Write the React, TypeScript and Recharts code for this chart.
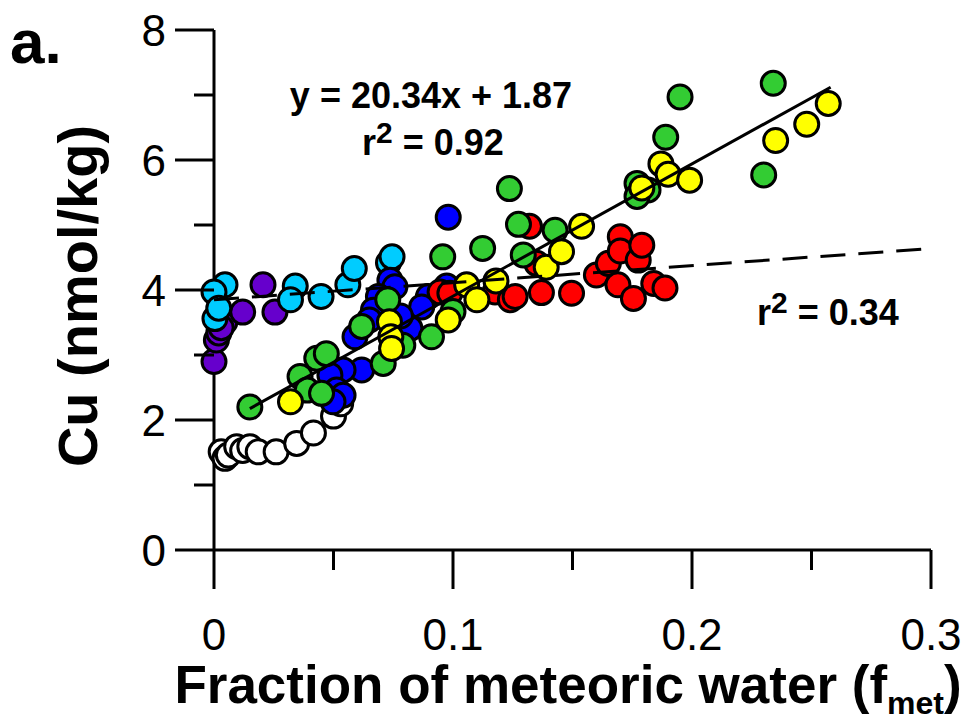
import React from "react";
import { ScatterChart, Scatter, XAxis, YAxis } from "recharts";

// fraction of meteoric water (x) vs Cu nmol/kg (y), one list per sample group
const whitePts = [
  [0.003, 1.51], [0.0046, 1.41], [0.006, 1.46], [0.0095, 1.59], [0.012, 1.53],
  [0.015, 1.59], [0.0185, 1.51], [0.026, 1.51], [0.0346, 1.64], [0.0416, 1.8],
  [0.05, 2.06], [0.053, 2.25],
];
const purplePts = [
  [0, 2.9], [0.001, 3.23], [0.002, 3.34], [0.0046, 3.51], [0.003, 3.42],
  [0.012, 3.66], [0.0205, 4.08], [0.0255, 3.66],
];
const cyanPts = [
  [0.0046, 4.08], [0, 3.97], [0.0004, 3.56], [0.002, 3.72], [0.034, 4.06],
  [0.032, 3.85], [0.0448, 3.9], [0.056, 4.08], [0.0587, 4.33], [0.073, 4.42],
  [0.0745, 4.51],
];
const bluePts = [
  [0.0736, 4.15], [0.0757, 4.05], [0.0688, 3.9], [0.0667, 3.69], [0.065, 3.54],
  [0.059, 3.28], [0.0897, 3.9], [0.0869, 3.74], [0.082, 3.41], [0.078, 3.6],
  [0.0974, 4.06], [0.098, 5.12], [0.0618, 2.77], [0.054, 2.77], [0.0485, 2.69],
  [0.0513, 2.46], [0.054, 2.38], [0.0498, 2.28],
];
const redPts = [
  [0.0946, 3.97], [0.0987, 3.95], [0.1176, 3.97], [0.124, 3.85], [0.126, 3.9],
  [0.132, 4.98], [0.135, 4.41], [0.137, 3.96], [0.1496, 3.95], [0.16, 4.23],
  [0.165, 4.41], [0.169, 4.08], [0.17, 4.82], [0.17, 4.6], [0.1755, 3.87],
  [0.1775, 4.46], [0.179, 4.69], [0.184, 4.1], [0.1887, 4.03],
];
const greenPts = [
  [0.015, 2.2], [0.036, 2.67], [0.039, 2.46], [0.045, 2.41], [0.043, 2.95],
  [0.047, 3.02], [0.0618, 3.44], [0.0708, 2.87], [0.079, 3.15], [0.0727, 3.85],
  [0.091, 3.28], [0.1, 3.67], [0.0957, 4.51], [0.1124, 4.64], [0.1236, 5.56],
  [0.1274, 5.01], [0.1427, 4.92], [0.1294, 4.54], [0.177, 5.64], [0.1816, 5.54],
  [0.177, 5.44], [0.189, 6.35], [0.195, 6.97], [0.234, 7.18], [0.23, 5.77],
];
const yellowPts = [
  [0.032, 2.28], [0.0734, 3.51], [0.074, 3.28], [0.0743, 3.1], [0.098, 3.54],
  [0.1057, 4.08], [0.11, 3.85], [0.118, 4.14], [0.139, 4.35], [0.1454, 4.59],
  [0.1538, 4.98], [0.179, 5.57], [0.187, 5.94], [0.19, 5.78], [0.199, 5.69],
  [0.235, 6.3], [0.248, 6.55], [0.257, 6.87],
];

// regression lines (end points)
const fitSolid = [[0.015, 2.175], [0.258, 7.12]];
const fitDashed = [[0, 3.85], [0.297, 4.63]];

const xTicks = [0, 0.05, 0.1, 0.15, 0.2, 0.25, 0.3];
const xMajor = [0, 0.1, 0.2, 0.3];
const yTicks = [0, 1, 2, 3, 4, 5, 6, 7, 8];

const toXY = (pts: number[][]) => pts.map(([x, y]) => ({ x, y }));

const FONT = "'Liberation Sans', Arial, Helvetica, sans-serif";

const dot = (fill: string) => (p: any) => (
  <circle cx={p.cx} cy={p.cy} r={12} fill={fill} stroke="#000" strokeWidth={3} />
);

const XTick = (props: any) => {
  const { x, y, payload } = props;
  const major = xMajor.includes(payload.value);
  return (
    <g>
      <line x1={x} x2={x} y1={y} y2={y + (major ? 39 : 20)} stroke="#000" strokeWidth={3} />
      {major && (
        <text x={x} y={y + 100} textAnchor="middle" fontSize={44} fontFamily={FONT} fill="#000">
          {String(payload.value)}
        </text>
      )}
    </g>
  );
};

const YTick = (props: any) => {
  const { x, y, payload } = props;
  const major = payload.value % 2 === 0;
  return (
    <g>
      <line x1={x} x2={x - (major ? 39 : 20)} y1={y} y2={y} stroke="#000" strokeWidth={3} />
      {major && (
        <text x={x - 48} y={y + 16} textAnchor="end" fontSize={44} fontFamily={FONT} fill="#000">
          {String(payload.value)}
        </text>
      )}
    </g>
  );
};

const noDot = () => <g />;

export default function App() {
  return (
    <div style={{ position: "absolute", left: 0, top: 0, width: 966, height: 725, background: "#fff" }}>
      <ScatterChart
        width={966}
        height={725}
        margin={{ top: 30, right: 35, bottom: 115, left: 154 }}
      >
        <XAxis
          type="number"
          dataKey="x"
          domain={[0, 0.3]}
          ticks={xTicks}
          height={60}
          tickSize={0}
          tickMargin={0}
          tickLine={false}
          tick={<XTick />}
          axisLine={{ stroke: "#000", strokeWidth: 3 }}
          interval={0}
        />
        <YAxis
          type="number"
          dataKey="y"
          domain={[0, 8]}
          ticks={yTicks}
          width={60}
          tickSize={0}
          tickMargin={0}
          tickLine={false}
          tick={<YTick />}
          axisLine={{ stroke: "#000", strokeWidth: 3 }}
          interval={0}
        />
        <Scatter data={toXY(whitePts)} shape={dot("#ffffff")} isAnimationActive={false} />
        <Scatter data={toXY(purplePts)} shape={dot("#6600cc")} isAnimationActive={false} />
        <Scatter data={toXY(cyanPts)} shape={dot("#00ccff")} isAnimationActive={false} />
        <Scatter data={toXY(bluePts)} shape={dot("#0000ff")} isAnimationActive={false} />
        <Scatter data={toXY(redPts)} shape={dot("#ff0000")} isAnimationActive={false} />
        <Scatter data={toXY(greenPts)} shape={dot("#33cc33")} isAnimationActive={false} />
        <Scatter data={toXY(yellowPts)} shape={dot("#ffff00")} isAnimationActive={false} />
        <Scatter
          data={toXY(fitSolid)}
          shape={noDot}
          line={{ stroke: "#000", strokeWidth: 3 }}
          isAnimationActive={false}
        />
        <Scatter
          data={toXY(fitDashed)}
          shape={noDot}
          line={{ stroke: "#000", strokeWidth: 3, strokeDasharray: "25 13" }}
          isAnimationActive={false}
        />
      </ScatterChart>
      <svg
        width={966}
        height={725}
        style={{ position: "absolute", left: 0, top: 0, pointerEvents: "none" }}
        fontFamily={FONT}
        fontWeight="bold"
      >
        <text x={10} y={63} fontSize={62}>a.</text>
        <text x={431} y={108} fontSize={36} textAnchor="middle">y = 20.34x + 1.87</text>
        <text x={433} y={155} fontSize={36} textAnchor="middle">
          r<tspan fontSize={30} dy={-12}>2</tspan>
          <tspan dy={12}> = 0.92</tspan>
        </text>
        <text x={828} y={325} fontSize={36} textAnchor="middle">
          r<tspan fontSize={30} dy={-12}>2</tspan>
          <tspan dy={12}> = 0.34</tspan>
        </text>
        <text x={78} y={296} fontSize={56} textAnchor="middle" transform="rotate(-90 78 296)" dy={19}>
          Cu (nmol/kg)
        </text>
        <text x={568} y={703} fontSize={53} textAnchor="middle">
          Fraction of meteoric water (f<tspan fontSize={32} dy={11}>met</tspan>
          <tspan dy={-11}>)</tspan>
        </text>
      </svg>
    </div>
  );
}
